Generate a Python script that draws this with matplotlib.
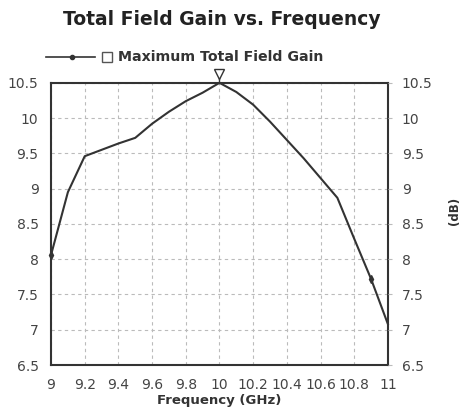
import matplotlib.pyplot as plt
from matplotlib.lines import Line2D
import numpy as np

plt.rcParams['font.family'] = 'DejaVu Sans'

# data
freq = [9.0, 9.1, 9.2, 9.3, 9.4, 9.5, 9.6, 9.7, 9.8, 9.9, 10.0,
        10.1, 10.2, 10.3, 10.4, 10.5, 10.6, 10.7, 10.8, 10.9, 11.0]
gain = [8.06, 8.95, 9.46, 9.55, 9.64, 9.72, 9.92, 10.09, 10.24, 10.36, 10.5,
        10.37, 10.19, 9.95, 9.69, 9.43, 9.15, 8.87, 8.29, 7.72, 7.08]
xticks = [9, 9.2, 9.4, 9.6, 9.8, 10, 10.2, 10.4, 10.6, 10.8, 11]
xlabels = ['9', '9.2', '9.4', '9.6', '9.8', '10', '10.2', '10.4', '10.6', '10.8', '11']
yticks = [6.5, 7, 7.5, 8, 8.5, 9, 9.5, 10, 10.5]
ylabels = ['6.5', '7', '7.5', '8', '8.5', '9', '9.5', '10', '10.5']

col = '#333333'
tcol = '#444444'

fig = plt.figure(figsize=(4.64, 4.12), dpi=100)
ax = fig.add_axes([0.110, 0.114, 0.726, 0.685])

ax.plot(freq, gain, color=col, lw=1.5, marker='d', ms=4, markevery=[0, 19],
        clip_on=False, zorder=3)

# max marker
i_max = int(np.argmax(gain))
ax.plot([freq[i_max], freq[i_max]], [gain[i_max], gain[i_max] + 0.12], color=col,
        lw=1, clip_on=False, zorder=4)
ax.plot([freq[i_max]], [gain[i_max] + 0.12], marker='v', ms=7, mfc='white',
        mec=col, mew=1, clip_on=False, zorder=5)

ax.set_xlim(9, 11)
ax.set_ylim(6.5, 10.5)
ax.set_xticks(xticks)
ax.set_xticklabels(xlabels, fontsize=10, color=tcol)
ax.set_yticks(yticks)
ax.set_yticklabels(ylabels, fontsize=10, color=tcol)
ax.tick_params(length=0, pad=9)
ax.grid(True, color='#bbbbbb', linestyle=(0, (3, 3)), lw=0.8)
for s in ax.spines.values():
    s.set_color(col)
    s.set_linewidth(1.5)

ax2 = ax.twinx()
ax2.set_ylim(6.5, 10.5)
ax2.set_yticks(yticks)
ax2.set_yticklabels(ylabels, fontsize=10, color=tcol)
ax2.tick_params(length=3, width=0.8, color='#bbbbbb', pad=7)
for s in ax2.spines.values():
    s.set_visible(False)

ax.set_xlabel('Frequency (GHz)', fontsize=9.5, fontweight='bold', color=col, labelpad=2)
fig.text(0.98, 0.488, '(dB)', rotation=90, fontsize=8.5, fontweight='bold',
         color=col, ha='center', va='center')

fig.text(0.477, 0.952, 'Total Field Gain vs. Frequency', fontsize=13.5,
         fontweight='bold', color='#222222', ha='center', va='center')

# legend
fig.add_artist(Line2D([0.100, 0.205], [0.862, 0.862], color=col, lw=1.2))
fig.add_artist(Line2D([0.155], [0.862], color=col, marker='o', ms=3))
fig.add_artist(Line2D([0.230], [0.862], marker='s', ms=7, mfc='white',
                      mec='#555555', mew=1, ls='none'))
fig.text(0.255, 0.862, 'Maximum Total Field Gain', fontsize=10.2, fontweight='bold',
         color=col, ha='left', va='center')

fig.savefig('out.png', dpi=100)
